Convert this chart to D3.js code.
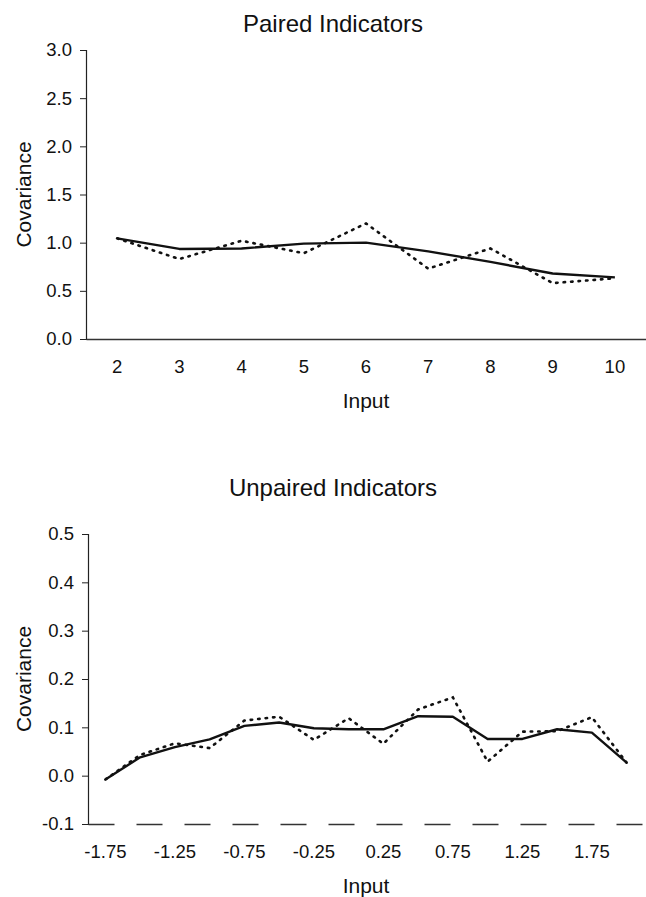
<!DOCTYPE html>
<html>
<head>
<meta charset="utf-8">
<script src="https://cdn.jsdelivr.net/npm/d3@7"></script>
<style>
  body { margin: 0; background: #fff; }
  text { font-family: "Liberation Sans", Arial, sans-serif; fill: #111; }
</style>
</head>
<body>
<div id="chart"></div>
<script>
////////////////////////////////////////////////////////////////////////////////
// Data
////////////////////////////////////////////////////////////////////////////////
var pairedInputs = [2, 3, 4, 5, 6, 7, 8, 9, 10];
var pairedSmooth = [1.045, 0.935, 0.94, 0.99, 1.0, 0.91, 0.80, 0.68, 0.64];
var pairedRaw    = [1.045, 0.83, 1.02, 0.89, 1.20, 0.73, 0.94, 0.58, 0.63];
var pairedYTicks = [0, 0.5, 1.0, 1.5, 2.0, 2.5, 3.0];

var unpairedInputs = [-1.75, -1.5, -1.25, -1, -0.75, -0.5, -0.25, 0,
                      0.25, 0.5, 0.75, 1, 1.25, 1.5, 1.75, 2];
var unpairedSmooth = [-0.008, 0.038, 0.059, 0.075, 0.103, 0.11, 0.098, 0.096,
                      0.096, 0.123, 0.122, 0.076, 0.076, 0.096, 0.089, 0.027];
var unpairedRaw    = [-0.008, 0.043, 0.067, 0.057, 0.114, 0.122, 0.074, 0.119,
                      0.066, 0.137, 0.162, 0.029, 0.091, 0.092, 0.121, 0.027];
var unpairedYTicks = [-0.1, 0, 0.1, 0.2, 0.3, 0.4, 0.5];
var unpairedXLabels = [-1.75, -1.25, -0.75, -0.25, 0.25, 0.75, 1.25, 1.75];

////////////////////////////////////////////////////////////////////////////////
// Main svg
////////////////////////////////////////////////////////////////////////////////
var svg = d3.select("#chart").append("svg")
   .attr("width", 646)
   .attr("height", 897);

// plain hyphen instead of the unicode minus d3 uses
function fmt(spec) {
   var f = d3.format(spec);
   return function (d) { return f(d).replace("\u2212", "-"); };
}

////////////////////////////////////////////////////////////////////////////////
// Draws one panel
////////////////////////////////////////////////////////////////////////////////
function drawPanel(p) {
   var g = svg.append("g");

   var x = d3.scaleBand()
      .domain(p.inputs)
      .range([p.left, p.right])
      .padding(0);
   var y = d3.scaleLinear()
      .domain([p.yTicks[0], p.yTicks[p.yTicks.length - 1]])
      .range([p.bottom, p.top]);
   var cx = function (d) { return x(d) + x.bandwidth() / 2; };

   // Title
   g.append("text")
      .attr("x", p.titleX)
      .attr("y", p.titleY)
      .attr("text-anchor", "middle")
      .attr("font-size", "24px")
      .text(p.title);

   // Y axis
   var yAxis = d3.axisLeft(y)
      .tickValues(p.yTicks)
      .tickSize(6)
      .tickPadding(8)
      .tickFormat(fmt(p.yFormat));
   var ya = g.append("g")
      .attr("transform", "translate(" + p.left + ",0)")
      .call(yAxis);
   ya.select(".domain").attr("stroke", "#222").attr("stroke-width", 1.2);
   ya.selectAll(".tick line").attr("stroke", "#222");
   ya.selectAll(".tick text")
      .attr("font-size", "18.5px")
      .attr("font-family", "Liberation Sans, Arial, sans-serif")
      .attr("fill", "#111");

   // X axis (category labels, no tick marks)
   var xAxis = d3.axisBottom(x)
      .tickValues(p.xLabels)
      .tickSize(0)
      .tickPadding(21)
      .tickFormat(fmt(p.xFormat));
   var xa = g.append("g")
      .attr("transform", "translate(0," + p.bottom + ")")
      .call(xAxis);
   xa.select(".domain")
      .attr("stroke", "#333")
      .attr("stroke-width", 1.4)
      .attr("stroke-dasharray", p.axisDash);
   xa.selectAll(".tick text")
      .attr("font-size", "18.5px")
      .attr("font-family", "Liberation Sans, Arial, sans-serif")
      .attr("fill", "#111");

   // Axis titles
   g.append("text")
      .attr("x", (p.left + p.right) / 2)
      .attr("y", p.xTitleY)
      .attr("text-anchor", "middle")
      .attr("font-size", "21px")
      .text("Input");
   g.append("text")
      .attr("transform", "translate(31," + (p.top + p.bottom) / 2 + ") rotate(-90)")
      .attr("text-anchor", "middle")
      .attr("font-size", "21px")
      .text("Covariance");

   // Lines
   var line = d3.line()
      .x(function (d) { return cx(d.x); })
      .y(function (d) { return y(d.y); });

   var rawPts = p.inputs.map(function (d, i) { return {x: d, y: p.raw[i]}; });
   var smoothPts = p.inputs.map(function (d, i) { return {x: d, y: p.smooth[i]}; });

   g.append("path")
      .datum(rawPts)
      .attr("d", line)
      .attr("fill", "none")
      .attr("stroke", "#111")
      .attr("stroke-width", 2.6)
      .attr("stroke-linecap", "round")
      .attr("stroke-dasharray", "1.5,6");

   g.append("path")
      .datum(smoothPts)
      .attr("d", line)
      .attr("fill", "none")
      .attr("stroke", "#111")
      .attr("stroke-width", 2.4)
      .attr("stroke-linejoin", "round");
}

drawPanel({
   title: "Paired Indicators", titleX: 333, titleY: 32,
   inputs: pairedInputs, smooth: pairedSmooth, raw: pairedRaw,
   yTicks: pairedYTicks, yFormat: ".1f",
   xLabels: pairedInputs, xFormat: "d",
   left: 86, right: 646, top: 50, bottom: 339,
   xTitleY: 408, axisDash: null
});

drawPanel({
   title: "Unpaired Indicators", titleX: 333, titleY: 496,
   inputs: unpairedInputs, smooth: unpairedSmooth, raw: unpairedRaw,
   yTicks: unpairedYTicks, yFormat: ".1f",
   xLabels: unpairedXLabels, xFormat: ".2f",
   left: 88, right: 644, top: 534, bottom: 824,
   xTitleY: 893, axisDash: "26,22"
});
</script>
</body>
</html>
